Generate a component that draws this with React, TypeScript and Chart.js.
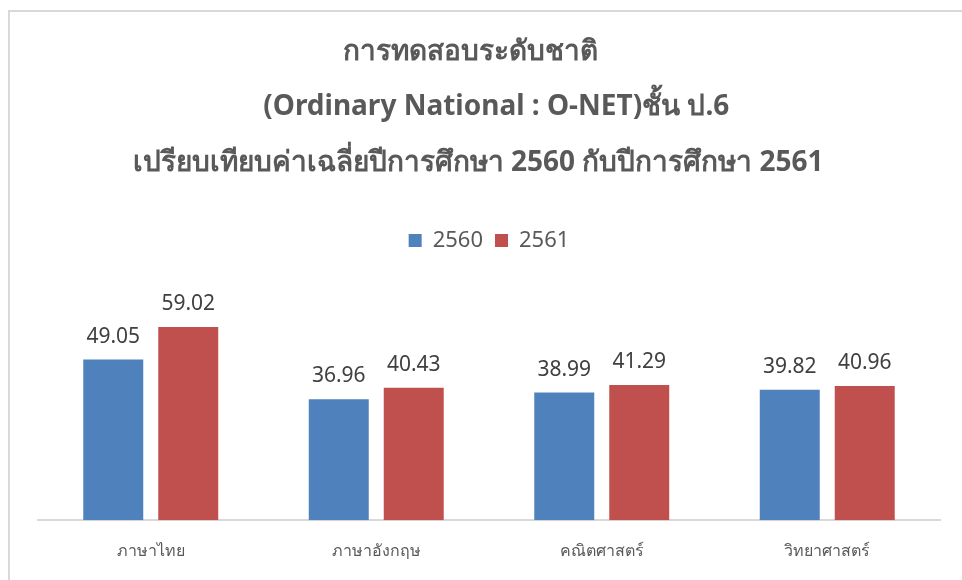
import React, { useEffect, useRef } from "react";
import { Chart, registerables } from "chart.js";

Chart.register(...registerables);

const categories = ["ภาษาไทย", "ภาษาอังกฤษ", "คณิตศาสตร์", "วิทยาศาสตร์"];
const series2560 = [49.05, 36.96, 38.99, 39.82];
const series2561 = [59.02, 40.43, 41.29, 40.96];
const seriesNames = ["2560", "2561"];
const titleLines = [
  "การทดสอบระดับชาติ     ",
  "  (Ordinary National : O-NET)ชั้น ป.6",
  "เปรียบเทียบค่าเฉลี่ยปีการศึกษา 2560 กับปีการศึกษา 2561   ",
];

const FONT = "'Noto Sans', 'Open Sans', sans-serif";

const dataLabelPlugin = {
  id: "dataLabels",
  afterDatasetsDraw(chart: any) {
    const ctx = chart.ctx;
    ctx.save();
    ctx.font = `21px ${FONT}`;
    ctx.fillStyle = "#404040";
    ctx.textAlign = "center";
    ctx.textBaseline = "alphabetic";
    chart.data.datasets.forEach((ds: any, di: number) => {
      const meta = chart.getDatasetMeta(di);
      meta.data.forEach((bar: any, i: number) => {
        ctx.fillText(Number(ds.data[i]).toFixed(2), bar.x, bar.y - 17);
      });
    });
    ctx.restore();
  },
};

export default function App() {
  const ref = useRef<HTMLCanvasElement | null>(null);
  useEffect(() => {
    if (!ref.current) return;
    const chart = new Chart(ref.current, {
      type: "bar",
      data: {
        labels: categories,
        datasets: [
          { label: seriesNames[0], data: series2560, backgroundColor: "#4F81BD" },
          { label: seriesNames[1], data: series2561, backgroundColor: "#C0504D" },
        ],
      },
      options: {
        animation: false,
        responsive: false,
        maintainAspectRatio: false,
        layout: { padding: { left: 28, right: 4, top: 0, bottom: 4.5 } },
        datasets: { bar: { categoryPercentage: 0.665, barPercentage: 0.8 } },
        plugins: {
          title: {
            display: true,
            text: titleLines,
            color: "#595959",
            font: { family: FONT, size: 28, weight: "bold", lineHeight: 1.982 },
            padding: { top: 12, bottom: 27 },
          },
          legend: {
            display: true,
            position: "top",
            labels: {
              color: "#595959",
              font: { family: FONT, size: 22 },
              boxWidth: 13,
              boxHeight: 13,
              padding: 12,
            },
          },
          tooltip: { enabled: false },
        },
        scales: {
          x: {
            grid: { display: false },
            border: { display: true, color: "#D9D9D9", width: 2 },
            ticks: { color: "#595959", font: { family: FONT, size: 16 }, padding: 14 },
          },
          y: {
            display: false,
            min: 0,
            max: 79,
          },
        },
      },
      plugins: [dataLabelPlugin],
    });
    return () => chart.destroy();
  }, []);
  return (
    <div
      style={{
        position: "fixed",
        left: 8,
        top: 10,
        width: 954,
        height: 570,
        borderTop: "2px solid #D9D9D9",
        borderLeft: "2px solid #D9D9D9",
        boxSizing: "border-box",
        background: "#fff",
      }}
    >
      <canvas ref={ref} width={934} height={568} style={{ display: "block" }} />
    </div>
  );
}
